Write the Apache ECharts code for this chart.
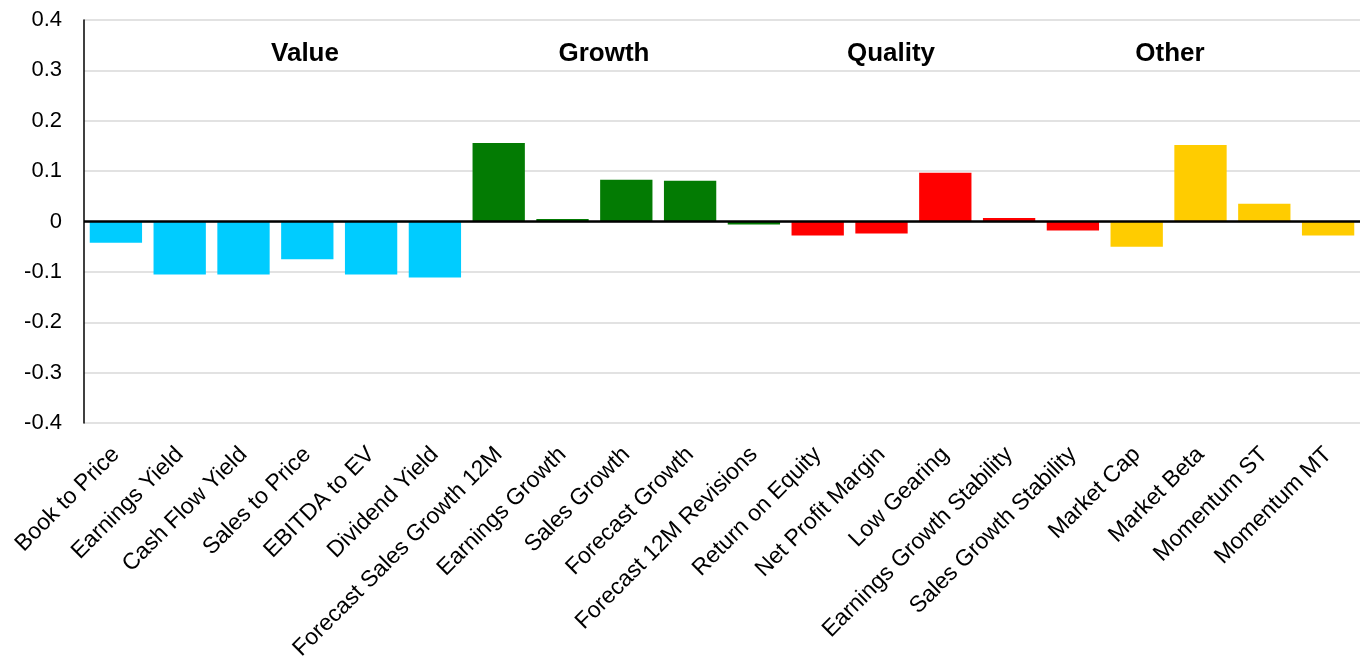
<!DOCTYPE html>
<html>
<head>
<meta charset="utf-8">
<script src="https://cdn.jsdelivr.net/npm/echarts@6/dist/echarts.min.js"></script>
<style>html,body{margin:0;padding:0;background:#fff;}#c{width:1369px;height:661px;}</style>
</head>
<body>
<div id="c"></div>
<script>
const categories = ["Book to Price","Earnings Yield","Cash Flow Yield","Sales to Price","EBITDA to EV","Dividend Yield","Forecast Sales Growth 12M","Earnings Growth","Sales Growth","Forecast Growth","Forecast 12M Revisions","Return on Equity","Net Profit Margin","Low Gearing","Earnings Growth Stability","Sales Growth Stability","Market Cap","Market Beta","Momentum ST","Momentum MT"];
const values = [-0.042,-0.105,-0.105,-0.075,-0.105,-0.111,0.156,0.005,0.083,0.081,-0.006,-0.028,-0.024,0.097,0.007,-0.018,-0.050,0.152,0.035,-0.028];
const groups = ["Value","Value","Value","Value","Value","Value","Growth","Growth","Growth","Growth","Growth","Quality","Quality","Quality","Quality","Quality","Other","Other","Other","Other"];
const groupNames = ["Value","Growth","Quality","Other"];
const groupColors = {Value:"#00CCFF",Growth:"#037B03",Quality:"#FF0000",Other:"#FFCC00"};
const yTicks = [-0.4,-0.3,-0.2,-0.1,0,0.1,0.2,0.3,0.4];

const chart = echarts.init(document.getElementById('c'));
const titleX = [305, 604, 891, 1170];
chart.setOption({
  animation:false,
  backgroundColor:'#fff',
  grid:{left:84,right:9,top:20,bottom:238,containLabel:false,outerBoundsMode:'none'},
  xAxis:{type:'category',data:categories,
    axisLine:{show:false,onZero:false},axisTick:{show:false},
    axisLabel:{interval:0,rotate:45,margin:28,fontFamily:'Liberation Sans, Arial',fontSize:23,color:'#000'}},
  yAxis:{type:'value',min:yTicks[0],max:yTicks[yTicks.length-1],interval:0.1,
    axisLine:{show:true,lineStyle:{color:'#000',width:1.5}},axisTick:{show:false},
    splitLine:{lineStyle:{color:'#d9d9d9',width:1.5}},
    axisLabel:{margin:22,fontFamily:'Liberation Sans, Arial',fontSize:22,color:'#000',
      formatter:v=>String(Math.round(v*10)/10)}},
  graphic: groupNames.map((g,i)=>({type:'text',x:titleX[i],y:54,
    style:{text:g,fontFamily:'Liberation Sans, Arial',fontSize:26,fontWeight:'bold',fill:'#000',align:'center',verticalAlign:'middle'}})),
  series:[{type:'bar',barCategoryGap:'18%',
    data:values.map((v,i)=>({value:v,itemStyle:{color:groupColors[groups[i]]}})),
    markLine:{silent:true,symbol:['none','none'],label:{show:false},
      lineStyle:{color:'#000',width:2.5,type:'solid'},data:[{yAxis:0}]}}]
});
</script>
</body>
</html>
